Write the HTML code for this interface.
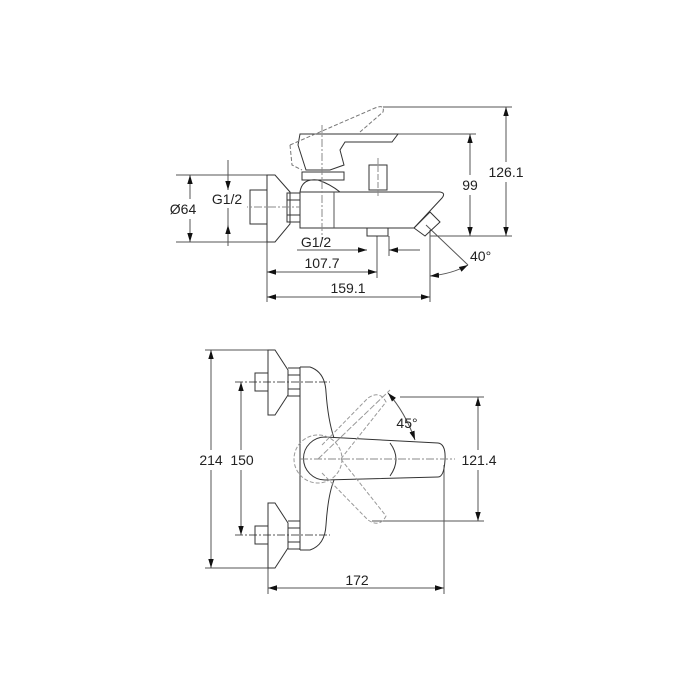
<!DOCTYPE html>
<html><head><style>
html,body{margin:0;padding:0;background:#fff;}
svg{display:block;}
text{font-family:"Liberation Sans",sans-serif;font-size:14px;fill:#222;}
</style></head><body>
<svg width="700" height="700" viewBox="0 0 700 700" xmlns="http://www.w3.org/2000/svg">
<defs>
<marker id="a" viewBox="0 0 10 10" refX="10" refY="5" markerWidth="9" markerHeight="9" orient="auto-start-reverse" markerUnits="userSpaceOnUse"><path d="M0,2 L10,5 L0,8 z" fill="#111"/></marker>
</defs>
<g fill="none" stroke="#555" stroke-width="1">
<line x1="383" y1="107" x2="512" y2="107"/>
<line x1="398" y1="134" x2="476" y2="134"/>
<line x1="430" y1="236" x2="512" y2="236"/>
<line x1="176" y1="175" x2="267" y2="175"/>
<line x1="176" y1="242" x2="267" y2="242"/>
<line x1="267" y1="242" x2="267" y2="302"/>
<line x1="377" y1="236" x2="377" y2="278"/>
<line x1="389" y1="236" x2="389" y2="256"/>
<line x1="430" y1="230" x2="430" y2="302"/>
<line x1="228" y1="160" x2="228" y2="246"/>
<line x1="506" y1="107" x2="506" y2="236" marker-start="url(#a)" marker-end="url(#a)"/>
<line x1="470" y1="134" x2="470" y2="236" marker-start="url(#a)" marker-end="url(#a)"/>
<line x1="190" y1="175" x2="190" y2="242" marker-start="url(#a)" marker-end="url(#a)"/>
<line x1="228" y1="175" x2="228" y2="190" marker-end="url(#a)"/>
<line x1="228" y1="242" x2="228" y2="225" marker-end="url(#a)"/>
<line x1="297" y1="250" x2="367" y2="250" marker-end="url(#a)"/>
<line x1="420" y1="250" x2="389" y2="250" marker-end="url(#a)"/>
<line x1="267" y1="272" x2="377" y2="272" marker-start="url(#a)" marker-end="url(#a)"/>
<line x1="267" y1="297" x2="430" y2="297" marker-start="url(#a)" marker-end="url(#a)"/>
<line x1="426" y1="225" x2="468" y2="265"/>
<path d="M430,276 Q452,274 468,265" marker-start="url(#a)" marker-end="url(#a)"/>
<path d="M267,175 L267,242 L275,242 L290,224 L290,192 L275,175 Z" stroke="#333"/>
<rect x="250" y="190" width="17" height="34" stroke="#333"/>
<path d="M287,193 L300,193 L300,222 L287,222 Z M287,200 H300 M287,215 H300" stroke="#333"/>
<path d="M300,192 L440,192 Q446,193 442,198 L414,228 L300,228 Z" stroke="#333"/>
<line x1="334" y1="192" x2="334" y2="228"/>
<path d="M300,192 Q302,178 318,180 Q330,184 340,192" stroke="#333"/>
<rect x="302" y="172" width="42" height="8" stroke="#333"/>
<path d="M300,134 L398,134 L392,142 L345,142 L340,150 L344,165 L330,170 L306,170 L298,145 Z" stroke="#333"/>
<path d="M290,145 L375,108 Q385,104 383,112 L360,132" stroke="#777" stroke-dasharray="4,2"/>
<path d="M290,145 L292,165 L302,170" stroke="#777" stroke-dasharray="4,2"/>
<line x1="322" y1="125" x2="322" y2="240" stroke="#888" stroke-dasharray="8,2,2,2"/>
<rect x="369" y="165" width="18" height="25" stroke="#333"/>
<line x1="378" y1="158" x2="378" y2="196" stroke="#888" stroke-dasharray="6,2"/>
<rect x="367" y="228" width="21" height="8" stroke="#333"/>
<path d="M414,228 L430,212 L440,222 L425,236 Z" stroke="#333"/>
<line x1="240" y1="207" x2="300" y2="207" stroke="#888" stroke-dasharray="8,2,2,2"/>
<line x1="205" y1="350" x2="275" y2="350"/>
<line x1="205" y1="568" x2="275" y2="568"/>
<line x1="235" y1="382" x2="330" y2="382" stroke-dasharray="8,2,2,2"/>
<line x1="235" y1="535" x2="330" y2="535" stroke-dasharray="8,2,2,2"/>
<line x1="211" y1="350" x2="211" y2="568" marker-start="url(#a)" marker-end="url(#a)"/>
<line x1="241" y1="382" x2="241" y2="535" marker-start="url(#a)" marker-end="url(#a)"/>
<line x1="400" y1="397" x2="484" y2="397"/>
<line x1="372" y1="521" x2="484" y2="521"/>
<line x1="478" y1="397" x2="478" y2="521" marker-start="url(#a)" marker-end="url(#a)"/>
<line x1="268" y1="565" x2="268" y2="594"/>
<line x1="444" y1="465" x2="444" y2="594"/>
<line x1="268" y1="588" x2="444" y2="588" marker-start="url(#a)" marker-end="url(#a)"/>
<path d="M388,393 Q405,412 415,440" marker-start="url(#a)" marker-end="url(#a)"/>
<path d="M268,350 L275,350 L288,370 L288,395 L275,415 L268,415 Z" stroke="#333"/>
<path d="M268,503 L275,503 L288,523 L288,548 L275,568 L268,568 Z" stroke="#333"/>
<rect x="255" y="373" width="13" height="18" stroke="#333"/>
<rect x="255" y="526" width="13" height="18" stroke="#333"/>
<path d="M288,368 H300 V396 H288 M288,375 H300 M288,389 H300" stroke="#333"/>
<path d="M288,521 H300 V549 H288 M288,528 H300 M288,542 H300" stroke="#333"/>
<path d="M300,367 L310,367 Q325,372 326,392 Q328,420 334,438" stroke="#333"/>
<path d="M300,550 L310,550 Q325,545 326,525 Q328,495 334,480" stroke="#333"/>
<line x1="300" y1="367" x2="300" y2="550" stroke="#333"/>
<path d="M325,437 L438,443 Q446,444 445,460 Q444,477 438,477 L325,480 A21,21 0 0 1 325,437 Z" stroke="#333"/>
<path d="M390,443 Q402,459 390,476" stroke="#333"/>
<line x1="300" y1="459" x2="455" y2="459" stroke="#888" stroke-dasharray="8,2,2,2"/>
<circle cx="318" cy="459" r="24" stroke="#999" stroke-dasharray="4,2"/>
<path d="M322,445 L368,398 Q380,390 386,402 L340,460" stroke="#999" stroke-dasharray="4,2"/>
<path d="M322,473 L368,520 Q380,528 386,516 L340,458" stroke="#999" stroke-dasharray="4,2"/>
<line x1="318" y1="459" x2="390" y2="390" stroke="#999" stroke-dasharray="6,2"/>
</g>
<g fill="#fff" stroke="none">
<rect x="486" y="162" width="40" height="20"/>
<rect x="460" y="175" width="20" height="20"/>
<rect x="164" y="199" width="38" height="20"/>
<rect x="209" y="190" width="38" height="18"/>
<rect x="196" y="450" width="30" height="20"/>
<rect x="228" y="450" width="28" height="20"/>
<rect x="459" y="450" width="40" height="20"/>
</g>
<text x="506" y="177" text-anchor="middle">126.1</text>
<text x="470" y="190" text-anchor="middle">99</text>
<text x="183" y="214" text-anchor="middle">Ø64</text>
<text x="227" y="204" text-anchor="middle">G1/2</text>
<text x="316" y="247" text-anchor="middle">G1/2</text>
<text x="322" y="268" text-anchor="middle">107.7</text>
<text x="348" y="293" text-anchor="middle">159.1</text>
<text x="470" y="261">40°</text>
<text x="211" y="465" text-anchor="middle">214</text>
<text x="242" y="465" text-anchor="middle">150</text>
<text x="407" y="428" text-anchor="middle">45°</text>
<text x="479" y="465" text-anchor="middle">121.4</text>
<text x="357" y="585" text-anchor="middle">172</text>
</svg>
</body></html>
